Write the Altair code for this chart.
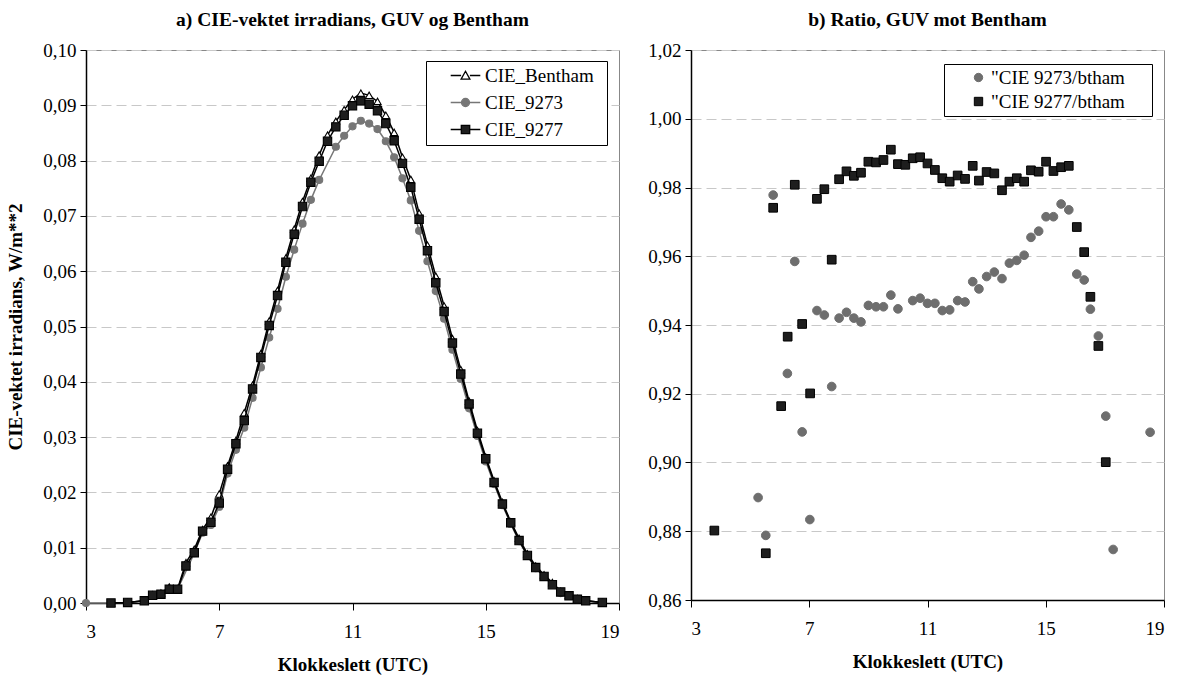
import altair as alt
import pandas as pd

FONT = "Liberation Serif"

# ---------------- panel a: CIE-weighted irradiance ----------------
time_a = [3.75, 4.25, 4.75, 5.0, 5.25, 5.5, 5.75, 6.0, 6.25, 6.5, 6.75, 7.0, 7.25, 7.5, 7.75,
          8.0, 8.25, 8.5, 8.75, 9.0, 9.25, 9.5, 9.75, 10.0, 10.25, 10.5, 10.75, 11.0, 11.25,
          11.5, 11.75, 12.0, 12.25, 12.5, 12.75, 13.0, 13.25, 13.5, 13.75, 14.0, 14.25, 14.5,
          14.75, 15.0, 15.25, 15.5, 15.75, 16.0, 16.25, 16.5, 16.75, 17.0, 17.25, 17.5, 17.75,
          18.0, 18.5]
cie_bentham = [0.0000, 0.0001, 0.0004, 0.0015, 0.0018, 0.0029, 0.0026, 0.0073, 0.0097, 0.0133,
               0.0155, 0.0197, 0.0248, 0.0294, 0.0344, 0.0394, 0.0451, 0.0510, 0.0565, 0.0624,
               0.0676, 0.0726, 0.0768, 0.0810, 0.0846, 0.0871, 0.0892, 0.0911, 0.0922, 0.0918,
               0.0907, 0.0882, 0.0851, 0.0806, 0.0766, 0.0705, 0.0647, 0.0591, 0.0537, 0.0478,
               0.0422, 0.0365, 0.0312, 0.0264, 0.0221, 0.0182, 0.0147, 0.0117, 0.0089, 0.0067,
               0.0051, 0.0037, 0.0021, 0.0014, 0.0008, 0.0004, 0.0001]
cie_9277 = [0.0000, 0.0001, 0.0004, 0.0014, 0.0016, 0.0025, 0.0025, 0.0067, 0.0091, 0.0130,
            0.0146, 0.0181, 0.0242, 0.0288, 0.0330, 0.0387, 0.0444, 0.0502, 0.0556, 0.0616,
            0.0667, 0.0717, 0.0761, 0.0799, 0.0835, 0.0861, 0.0882, 0.0899, 0.0908, 0.0902,
            0.0890, 0.0867, 0.0836, 0.0795, 0.0752, 0.0694, 0.0637, 0.0579, 0.0527, 0.0470,
            0.0414, 0.0360, 0.0307, 0.0261, 0.0218, 0.0179, 0.0145, 0.0113, 0.0086, 0.0064,
            0.0048, 0.0033, 0.0020, 0.0013, 0.0007, 0.0004, 0.0001]
time_9273 = [3.0, 3.75, 4.25, 4.75, 5.0, 5.25, 5.5, 5.75, 6.25, 6.5, 6.75, 7.0, 7.25, 7.5, 7.75,
             8.0, 8.25, 8.5, 8.75, 9.0, 9.25, 9.5, 9.75, 10.0, 10.5, 10.75, 11.0, 11.25,
             11.5, 11.75, 12.0, 12.25, 12.5, 12.75, 13.0, 13.25, 13.5, 13.75, 14.0, 14.25, 14.5,
             14.75, 15.0, 15.25, 15.5, 15.75, 16.0, 16.25, 16.5, 16.75, 17.0, 17.25, 17.5, 17.75,
             18.0, 18.5]
cie_9273 = [0.0000, 0.0000, 0.0001, 0.0004, 0.0013, 0.0016, 0.0025, 0.0025, 0.0090, 0.0127,
            0.0141, 0.0174, 0.0234, 0.0277, 0.0317, 0.0371, 0.0426, 0.0480, 0.0532, 0.0590,
            0.0639, 0.0686, 0.0729, 0.0765, 0.0825, 0.0845, 0.0862, 0.0872, 0.0867, 0.0857,
            0.0835, 0.0806, 0.0768, 0.0728, 0.0673, 0.0618, 0.0564, 0.0514, 0.0458, 0.0405,
            0.0352, 0.0302, 0.0256, 0.0215, 0.0177, 0.0143, 0.0112, 0.0085, 0.0063, 0.0048,
            0.0034, 0.0018, 0.0013, 0.0007, 0.0004, 0.0001]

# ---------------- panel b: ratios ----------------
time_r9273 = [5.27, 5.53, 5.78, 6.26, 6.51, 6.76, 7.02, 7.26, 7.51, 7.76, 8.01, 8.26, 8.51, 8.75,
              9.00, 9.26, 9.51, 9.76, 10.00, 10.50, 10.75, 11.00, 11.25, 11.50, 11.75, 12.02,
              12.27, 12.53, 12.74, 13.00, 13.26, 13.52, 13.77, 14.02, 14.27, 14.50, 14.76, 15.01,
              15.26, 15.52, 15.78, 16.05, 16.30, 16.51, 16.78, 17.03, 17.28, 18.53]
ratio_9273 = [0.8898, 0.8788, 0.9778, 0.9259, 0.9585, 0.9089, 0.8834, 0.9442, 0.9429, 0.9221,
              0.9420, 0.9437, 0.9420, 0.9409, 0.9457, 0.9453, 0.9453, 0.9487, 0.9447, 0.9471,
              0.9478, 0.9463, 0.9463, 0.9442, 0.9444, 0.9471, 0.9467, 0.9526, 0.9505, 0.9541,
              0.9554, 0.9535, 0.9580, 0.9588, 0.9603, 0.9655, 0.9673, 0.9715, 0.9715, 0.9752,
              0.9735, 0.9548, 0.9531, 0.9446, 0.9368, 0.9135, 0.8747, 0.9088]
time_r9277 = [3.79, 5.53, 5.78, 6.05, 6.27, 6.51, 6.76, 7.03, 7.26, 7.51, 7.76, 8.01, 8.26, 8.51,
              8.75, 9.00, 9.26, 9.51, 9.76, 10.00, 10.25, 10.50, 10.75, 11.00, 11.25, 11.50,
              11.75, 12.02, 12.27, 12.53, 12.74, 13.00, 13.26, 13.52, 13.77, 14.02, 14.27, 14.50,
              14.76, 15.01, 15.26, 15.52, 15.78, 16.05, 16.30, 16.51, 16.78, 17.03]
ratio_9277 = [0.8802, 0.8736, 0.9741, 0.9164, 0.9366, 0.9808, 0.9403, 0.9201, 0.9767, 0.9795,
              0.9590, 0.9824, 0.9847, 0.9834, 0.9843, 0.9875, 0.9873, 0.9880, 0.9910, 0.9868,
              0.9866, 0.9885, 0.9888, 0.9870, 0.9851, 0.9827, 0.9817, 0.9835, 0.9825, 0.9863,
              0.9820, 0.9845, 0.9841, 0.9792, 0.9817, 0.9827, 0.9817, 0.9850, 0.9846, 0.9875,
              0.9848, 0.9859, 0.9863, 0.9685, 0.9612, 0.9482, 0.9339, 0.9001]

names_a = ["CIE_Bentham", "CIE_9273", "CIE_9277"]
names_b = ['"CIE 9273/btham', '"CIE 9277/btham']
x_ticks = [3, 7, 11, 15, 19]
y_ticks_a = [0.0, 0.01, 0.02, 0.03, 0.04, 0.05, 0.06, 0.07, 0.08, 0.09, 0.1]
y_ticks_b = [0.86, 0.88, 0.9, 0.92, 0.94, 0.96, 0.98, 1.0, 1.02]

COMMA = "replace(format(datum.value, '.2f'), '.', ',')"
GRAY = "#767676"
DARK = "#1e1e1e"
NBSP = "\u00a0"

# ---------------- panel a ----------------
xa = alt.X("t:Q", scale=alt.Scale(domain=[3, 19], nice=False, zero=False),
           axis=alt.Axis(values=x_ticks, format="d", title="Klokkeslett (UTC)"))
ya = alt.Y("v:Q", scale=alt.Scale(domain=[0, 0.1], nice=False),
           axis=alt.Axis(values=y_ticks_a, labelExpr=COMMA, title="CIE-vektet irradians, W/m**2"))

df_bent = pd.DataFrame({"t": time_a, "v": cie_bentham})
df_77 = pd.DataFrame({"t": time_a, "v": cie_9277})
df_73 = pd.DataFrame({"t": time_9273, "v": cie_9273})


def series(df, line_color, shape, fill, stroke, size):
    base = alt.Chart(df)
    line = base.mark_line(color=line_color, strokeWidth=1.5).encode(x=xa, y=ya)
    pts = base.mark_point(shape=shape, filled=True, fill=fill, stroke=stroke, strokeWidth=1.1,
                          size=size, opacity=1).encode(x=xa, y=ya)
    return [line, pts]


# legend symbols: short line with the marker in the middle
path_tri = "M-3.7,0H-1.1M1.1,0H3.7M0,-1.05L1.1,0.9H-1.1Z"
path_cir = "M-3.7,0H-1M1,0H3.7M1,0A1,1,0,1,1,-1,0A1,1,0,1,1,1,0Z"
path_sq = "M-3.7,0H-1.05M1.05,0H3.7M-1.05,-1.05H1.05V1.05H-1.05Z"

leg_a = alt.Legend(title=NBSP, titleOrient="right", titlePadding=8, titleFontSize=8,
                   orient="none", legendX=340, legendY=11, direction="vertical",
                   labelFont=FONT, labelFontSize=19, labelColor="black", symbolSize=64,
                   symbolStrokeWidth=1.3, padding=5, rowPadding=7, strokeColor="black",
                   fillColor="white", symbolOffset=25, labelOffset=10)

df_leg_a = pd.DataFrame({"s": names_a})
legend_layer_a = alt.Chart(df_leg_a).mark_point(filled=True, clip=True, opacity=1, strokeWidth=1.3,
                                                size=64).encode(
    x=alt.value(-300), y=alt.value(-300),
    shape=alt.Shape("s:N", scale=alt.Scale(domain=names_a, range=[path_tri, path_cir, path_sq]), legend=leg_a),
    fill=alt.Fill("s:N", scale=alt.Scale(domain=names_a, range=["white", GRAY, DARK]), legend=leg_a),
    stroke=alt.Stroke("s:N", scale=alt.Scale(domain=names_a, range=["black", GRAY, "black"]), legend=leg_a),
)

layers_a = (series(df_73, GRAY, "circle", GRAY, GRAY, 50)
            + series(df_bent, "black", "triangle-up", "white", "black", 55)
            + series(df_77, "black", "square", DARK, "black", 70)
            + [legend_layer_a])

chart_a = alt.layer(*layers_a).properties(
    width=533, height=553,
    title=alt.TitleParams("a) CIE-vektet irradians, GUV og Bentham"),
)

# ---------------- panel b ----------------
xb = alt.X("t:Q", scale=alt.Scale(domain=[3, 19], nice=False, zero=False),
           axis=alt.Axis(values=x_ticks, format="d", title="Klokkeslett (UTC)"))
yb = alt.Y("v:Q", scale=alt.Scale(domain=[0.86, 1.02], nice=False, zero=False),
           axis=alt.Axis(values=y_ticks_b, labelExpr=COMMA, title=None))

df_b = pd.concat([
    pd.DataFrame({"t": time_r9273, "v": ratio_9273, "s": names_b[0]}),
    pd.DataFrame({"t": time_r9277, "v": ratio_9277, "s": names_b[1]}),
], ignore_index=True)

leg_b = alt.Legend(title=NBSP, titleOrient="right", titlePadding=23, titleFontSize=8,
                   orient="none", legendX=253, legendY=14, direction="vertical",
                   labelFont=FONT, labelFontSize=19, labelColor="black", symbolSize=70,
                   symbolStrokeWidth=1, padding=4, rowPadding=4, strokeColor="black",
                   fillColor="white", symbolOffset=21, labelOffset=3)

chart_b = alt.Chart(df_b).mark_point(filled=True, opacity=1, size=75, strokeWidth=1).encode(
    x=xb, y=yb,
    shape=alt.Shape("s:N", scale=alt.Scale(domain=names_b, range=["circle", "square"]), legend=leg_b),
    fill=alt.Fill("s:N", scale=alt.Scale(domain=names_b, range=["#6e6e6e", DARK]), legend=leg_b),
    stroke=alt.Stroke("s:N", scale=alt.Scale(domain=names_b, range=["#6e6e6e", "black"]), legend=leg_b),
).properties(
    width=473, height=550,
    title=alt.TitleParams("b) Ratio, GUV mot Bentham"),
)

chart = alt.hconcat(chart_a, chart_b, spacing=27).resolve_scale(
    shape="independent", fill="independent", stroke="independent"
).resolve_legend(shape="independent", fill="independent", stroke="independent").properties(
    padding={"left": 6, "top": 9, "right": 4, "bottom": 0}, background="white"
).configure_view(
    stroke="#888888", strokeWidth=1
).configure_axis(
    domainColor="black", domainWidth=1.5, tickColor="black", tickWidth=1,
    labelFont=FONT, labelFontSize=19, labelColor="black",
    titleFont=FONT, titleFontSize=19, titleFontWeight="bold", titleColor="black",
    gridColor="#c8c8c8", gridDash=[10, 5], gridWidth=1,
).configure_axisX(
    grid=False, tickSize=7, labelPadding=12, titlePadding=14,
).configure_axisY(
    grid=True, tickSize=6, labelPadding=4, titlePadding=17,
).configure_title(
    font=FONT, fontSize=19.5, fontWeight="bold", color="black", anchor="middle", offset=11,
)

chart.save("out.html", embed_options={"renderer": "svg", "actions": False})
